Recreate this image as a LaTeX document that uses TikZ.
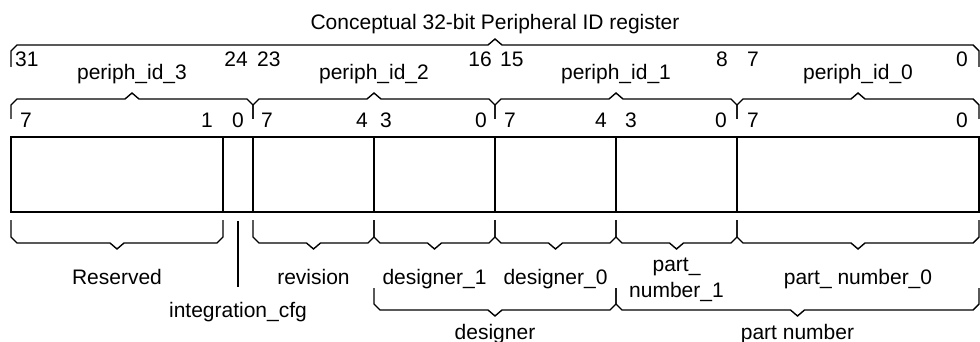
\documentclass[tikz,border=0pt]{standalone}
\usepackage{fontspec}
\setmainfont{Liberation Sans}
\usetikzlibrary{positioning, calc}

% brace: left x, right x, line y, end y, tip direction (1 down, -1 up)
\newcommand{\fieldbrace}[5]{%
  \draw[brace] (#1,#4) -- (#1,{#3-6*(#5)}) -- ({#1+6},#3)
    -- ({(#1+#2)/2-7},#3) -- ({(#1+#2)/2},{#3+6*(#5)}) -- ({(#1+#2)/2+7},#3)
    -- ({#2-6},#3) -- (#2,{#3-6*(#5)}) -- (#2,#4);}

\begin{document}
\begin{tikzpicture}[x=1pt, y=-1pt, font=\fontsize{21}{26}\selectfont]
  \tikzstyle{field}=[draw, line width=1.8pt, minimum height=75pt, inner sep=0pt]
  \tikzstyle{brace}=[line width=1.4pt, line join=miter]
  \tikzstyle{bitnum}=[inner sep=0pt]
  \tikzstyle{fieldname}=[inner sep=0pt, anchor=base, align=center]

  \useasboundingbox (0,0) rectangle (980,342);

  % Title and 32-bit brace
  \node[fieldname] (title) at (495,30) {Conceptual 32-bit Peripheral ID register};
  \fieldbrace{11}{979}{45}{67}{-1}
  \foreach \x/\a/\t [count=\i] in {15/base west/31, 248/base east/24, 257/base west/23,
      492/base east/16, 500/base west/15, 728/base east/8, 747/base west/7, 968/base east/0} {
    \node[bitnum, anchor=\a] (top\i) at (\x,67) {\t};
  }

  % Byte braces
  \foreach \l/\r/\n in {737/979/0, 495/737/1, 253/495/2, 11/253/3} {
    \fieldbrace{\l}{\r}{99}{119}{-1}
    \node[fieldname] (id\n) at ({(\l+\r)/2},80) {periph\_id\_\n};
  }
  \foreach \x/\a/\t [count=\i] in {20/base west/7, 213/base east/1, 238/base/0,
      261/base west/7, 368/base east/4, 380/base west/3, 487/base east/0,
      504/base west/7, 607/base east/4, 625/base west/3, 727/base east/0,
      747/base west/7, 968/base east/0} {
    \node[bitnum, anchor=\a] (bit\i) at (\x,128) {\t};
  }

  % Register fields
  \foreach \l/\r/\n in {11/223/res, 223/253/cfg, 253/374/rev, 374/495/des1,
      495/616/des0, 616/737/pn1, 737/979/pn0} {
    \node[field, minimum width={(\r-\l)*1pt}] (\n) at ({(\l+\r)/2},174.5) {};
  }

  % Field braces and names
  \foreach \l/\r in {11/223, 253/374, 374/495, 495/616, 616/737, 737/979} {
    \fieldbrace{\l}{\r}{243}{220}{1}
  }
  \node[fieldname] (resname) at (117,284) {Reserved};
  \node[fieldname] (revname) at (313.5,284) {revision};
  \node[fieldname] (des1name) at (434.5,284) {designer\_1};
  \node[fieldname] (des0name) at (555.5,284) {designer\_0};
  \node[fieldname] (pn1name) at (676.5,297) {part\_\\number\_1};
  \node[fieldname] (pn0name) at (858,284) {part\_ number\_0};

  \coordinate (cfgend) at (238,287);
  \draw[brace] (cfg.south) ++(0,8) -- (cfgend);
  \node[fieldname] (cfgname) at (238,317) {integration\_cfg};

  % Grouped braces
  \fieldbrace{374}{616}{310}{288}{1}
  \fieldbrace{616}{979}{310}{288}{1}
  \node[fieldname] (desname) at (495,339) {designer};
  \node[fieldname] (pnname) at (797.5,339) {part number};
\end{tikzpicture}
\end{document}
